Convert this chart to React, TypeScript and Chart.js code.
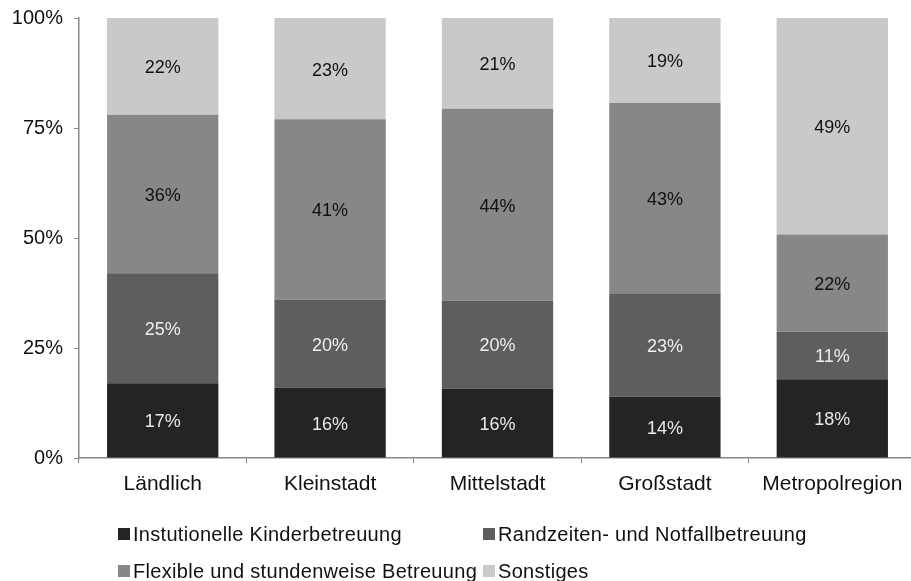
import React, { useEffect, useRef } from "react";
import { Chart, registerables } from "chart.js";

Chart.register(...registerables);

const categories = ["Ländlich", "Kleinstadt", "Mittelstadt", "Großstadt", "Metropolregion"];
const seriesNames = [
  "Instutionelle Kinderbetreuung",
  "Randzeiten- und Notfallbetreuung",
  "Flexible und stundenweise Betreuung",
  "Sonstiges",
];
const instValues = [17, 16, 15.8, 13.9, 17.9];
const randValues = [25, 20, 20.0, 23.4, 10.8];
const flexValues = [36, 41, 43.6, 43.4, 22.1];
const sonstValues = [22, 23, 20.6, 19.3, 49.2];
const yTickValues = [0, 25, 50, 75, 100];

const seriesColors = ["#242424", "#5e5e5e", "#878787", "#c9c9c9"];
const labelColors = ["#e8e8e8", "#eeeeee", "#111111", "#111111"];
const FONT = "'Liberation Sans', Arial, sans-serif";

const valueLabelPlugin = {
  id: "valueLabels",
  afterDatasetsDraw(chart: any) {
    const ctx = chart.ctx;
    ctx.save();
    ctx.font = `18px ${FONT}`;
    ctx.textAlign = "center";
    ctx.textBaseline = "middle";
    chart.data.datasets.forEach((ds: any, di: number) => {
      const meta = chart.getDatasetMeta(di);
      meta.data.forEach((bar: any, i: number) => {
        const p = bar.getProps(["x", "y", "base"], true);
        const v = ds.data[i];
        ctx.fillStyle = labelColors[di];
        ctx.fillText(`${Math.round(v)}%`, p.x, (p.y + p.base) / 2 + 2);
      });
    });
    ctx.restore();
  },
};

export default function App() {
  const ref = useRef<HTMLCanvasElement>(null);
  useEffect(() => {
    if (!ref.current) return;
    const seriesData = [instValues, randValues, flexValues, sonstValues];
    const chart = new Chart(ref.current, {
      type: "bar",
      data: {
        labels: categories,
        datasets: seriesNames.map((name, i) => ({
          label: name,
          data: seriesData[i],
          backgroundColor: seriesColors[i],
          borderWidth: 0,
          categoryPercentage: 1,
          barPercentage: 0.665,
        })),
      },
      options: {
        responsive: false,
        animation: false,
        layout: { padding: { top: 18, left: 0, right: 0, bottom: 0 } },
        plugins: { legend: { display: false }, tooltip: { enabled: false } },
        scales: {
          x: {
            stacked: true,
            grid: { drawOnChartArea: false, tickLength: 5, color: "#888888", offset: true },
            border: { color: "#888888", width: 1.5 },
            ticks: { color: "#111111", font: { family: FONT, size: 21 }, padding: 9 },
            afterFit: (s: any) => {
              s.height = 123;
              s.paddingLeft = 0;
              s.paddingRight = 0;
            },
          },
          y: {
            stacked: true,
            min: 0,
            max: 100,
            afterBuildTicks: (s: any) => {
              s.ticks = yTickValues.map((v) => ({ value: v }));
            },
            grid: { drawOnChartArea: false, tickLength: 5, color: "#888888" },
            border: { color: "#888888", width: 1.5 },
            ticks: {
              color: "#111111",
              font: { family: FONT, size: 20 },
              padding: 11,
              callback: (v: any) => `${v}%`,
            },
            afterFit: (s: any) => {
              s.width = 79;
              s.paddingTop = 0;
              s.paddingBottom = 0;
            },
          },
        },
      },
      plugins: [valueLabelPlugin],
    });
    return () => chart.destroy();
  }, []);

  const legendItem = (i: number, left: number, top: number) => (
    <div
      key={i}
      style={{
        position: "absolute",
        left,
        top,
        display: "flex",
        alignItems: "center",
        fontFamily: FONT,
        fontSize: 20,
        letterSpacing: "0.3px",
        color: "#111",
        whiteSpace: "nowrap",
        lineHeight: "24px",
      }}
    >
      <span
        style={{
          display: "inline-block",
          width: 12,
          height: 12,
          background: seriesColors[i],
          marginRight: 3,
        }}
      />
      <span>{seriesNames[i]}</span>
    </div>
  );

  return (
    <div style={{ position: "fixed", left: 0, top: 0, width: 911, height: 581, background: "#fff", overflow: "hidden" }}>
      <canvas ref={ref} width={916} height={581} style={{ display: "block" }} />
      {legendItem(0, 118, 522)}
      {legendItem(1, 483, 522)}
      {legendItem(2, 118, 559)}
      {legendItem(3, 483, 559)}
    </div>
  );
}
